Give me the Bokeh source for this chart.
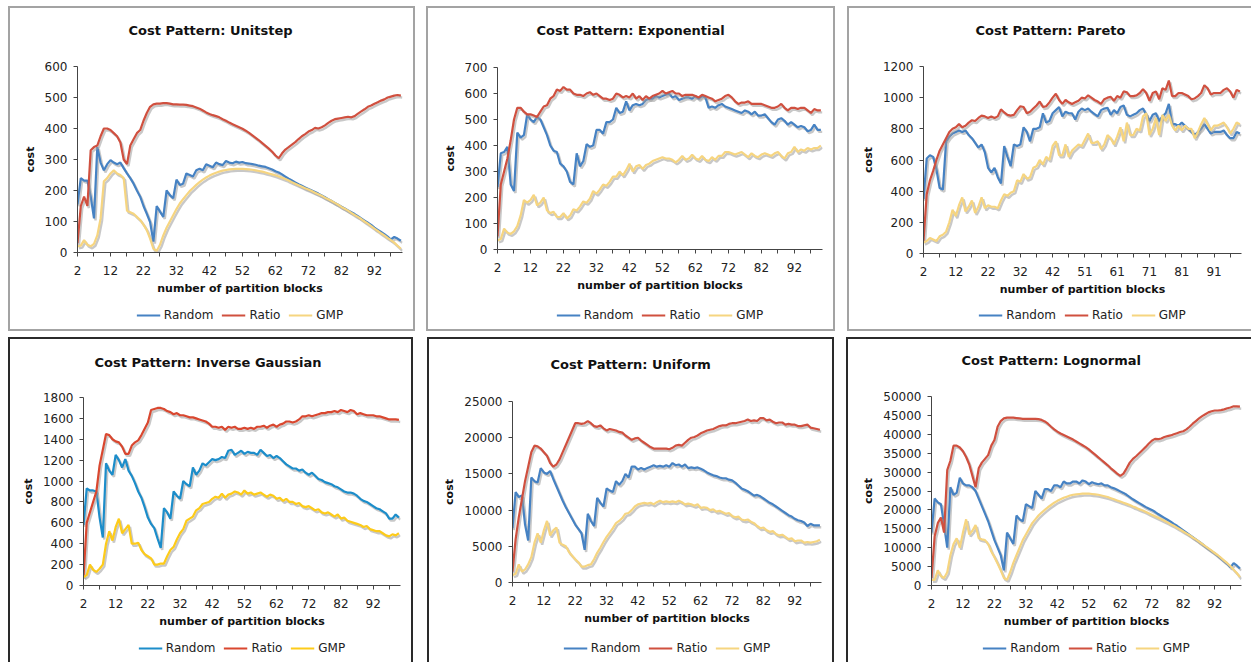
from bokeh.plotting import figure
from bokeh.models import Range1d, FixedTicker, Legend, Spacer, LinearAxis
from bokeh.layouts import row, column
from bokeh.embed import file_html
from bokeh.resources import INLINE

FONT = "DejaVu Sans"

# ---------------- data ----------------
X = list(range(2, 101))
XTICKS = [2, 12, 22, 32, 42, 52, 62, 72, 82, 92]
XMINOR = [7, 17, 27, 37, 47, 57, 67, 77, 87, 97]
XTICK_LABELS = ["2", "12", "22", "32", "42", "52", "62", "72", "82", "92"]
PARETO_XTICK_LABELS = ["2", "12", "22", "32", "42", "51", "61", "71", "81", "91"]
SERIES = ["Random", "Ratio", "GMP"]

UNITSTEP_RANDOM = [
    155, 240, 232, 232, 180, 110, 340, 290, 265, 285,
    298, 290, 285, 290, 272, 255, 240, 222, 200, 180,
    150, 125, 98, 35, 150, 132, 115, 200, 185, 175,
    235, 218, 222, 255, 250, 245, 265, 270, 265, 285,
    280, 275, 290, 285, 282, 295, 290, 288, 293, 290,
    292, 288, 287, 285, 283, 280, 278, 276, 272, 268,
    262, 258, 252, 245, 238, 232, 226, 220, 215, 210,
    205, 200, 195, 190, 184, 178, 172, 166, 160, 154,
    148, 142, 136, 130, 124, 117, 110, 103, 96, 89,
    80, 73, 66, 59, 51, 42, 50, 45, 38]
UNITSTEP_RATIO = [
    30, 150, 180, 150, 330, 340, 345, 375, 400, 400,
    395, 385, 375, 355, 300, 285, 345, 365, 385, 395,
    425, 450, 470, 478, 480, 480, 482, 482, 480, 478,
    478, 477, 477, 476, 474, 472, 468, 464, 458, 452,
    447, 443, 440, 436, 430, 425, 419, 414, 409, 404,
    399, 393, 386, 378, 370, 362, 353, 344, 335, 325,
    313, 304, 320, 332, 340, 348, 356, 366, 375, 382,
    390, 395, 402, 400, 404, 410, 418, 425, 430, 432,
    434, 436, 438, 436, 440, 448, 455, 462, 470, 474,
    480, 485, 490, 494, 500, 503, 506, 508, 506]
UNITSTEP_GMP = [
    20, 22, 40, 25, 20, 28, 55, 110, 230, 240,
    255, 265, 255, 250, 240, 135, 130, 125, 115, 105,
    90, 72, 45, 12, 5, 25, 55, 80, 100, 120,
    140, 158, 172, 185, 198, 208, 218, 227, 235, 242,
    248, 253, 257, 261, 264, 266, 268, 269, 270, 270,
    270, 269, 268, 267, 265, 263, 261, 258, 255, 252,
    249, 245, 241, 237, 232, 227, 222, 217, 212, 207,
    203, 198, 193, 188, 183, 177, 172, 166, 160, 154,
    147, 141, 135, 128, 121, 115, 108, 100, 93, 85,
    77, 70, 62, 55, 47, 40, 32, 22, 12]

EXPO_RANDOM = [
    240, 370, 375, 395, 250, 225, 450, 430, 440, 520,
    500, 490, 510, 500, 470, 440, 400, 380, 375, 330,
    320, 300, 260, 250, 370, 320, 340, 405, 395, 400,
    460, 460, 445, 490, 490, 500, 545, 525, 530, 570,
    535, 555, 560, 555, 560, 575, 580, 580, 590, 585,
    590, 595, 600, 585, 590, 575, 580, 585, 585, 580,
    590, 580, 590, 585, 545, 550, 545, 555, 560, 550,
    545, 540, 535, 530, 525, 535, 530, 520, 530, 515,
    515, 520, 505, 490, 480, 500, 505, 495, 480, 490,
    480, 470, 475, 470, 455, 460, 480, 460, 460]
EXPO_RATIO = [
    50, 250, 300, 350, 420, 500, 545, 545, 530, 520,
    520, 515, 510, 530, 550, 555, 580, 590, 615, 610,
    625, 615, 615, 600, 595, 595, 590, 600, 605, 595,
    600, 590, 580, 580, 575, 580, 600, 595, 585, 590,
    585, 600, 580, 590, 575, 590, 580, 590, 595, 600,
    610, 600, 605, 610, 600, 600, 590, 595, 595, 595,
    590, 585, 595, 590, 585, 580, 570, 575, 580, 590,
    595, 585, 570, 560, 565, 565, 570, 560, 560, 560,
    560, 555, 550, 545, 545, 550, 560, 545, 535, 545,
    545, 540, 545, 545, 535, 525, 540, 535, 535]
EXPO_GMP = [
    35, 40, 80, 65, 60, 70, 90, 130, 190, 180,
    190, 210, 170, 180, 200, 150, 140, 145, 125, 125,
    140, 120, 130, 155, 150, 165, 185, 180, 195, 225,
    215, 230, 250, 245, 260, 280, 280, 300, 285, 305,
    330, 300, 320, 325, 310, 325, 330, 340, 345, 350,
    355, 350, 350, 345, 335, 345, 360, 345, 350, 365,
    350, 345, 360, 345, 340, 355, 345, 360, 360, 375,
    375, 370, 365, 370, 375, 365, 355, 370, 360, 355,
    365, 370, 365, 360, 370, 375, 360, 350, 370, 375,
    395, 375, 385, 380, 390, 385, 390, 390, 400]

PARETO_RANDOM = [
    350, 610, 630, 620, 540, 420, 410, 720, 750, 770,
    780, 790, 780, 790, 760, 740, 710, 680, 700, 650,
    550, 520, 550, 490, 450, 690, 620, 560, 700, 690,
    700, 810, 780, 720, 800, 800, 810, 900, 840, 850,
    900, 920, 940, 880, 910, 900, 900, 860, 910, 930,
    920, 930, 910, 895, 880, 920, 930, 935, 890, 920,
    900, 940, 950, 890, 880, 890, 900, 920, 930, 890,
    850, 890, 900, 850, 880, 900, 960, 830, 830, 820,
    840, 820, 800, 780, 760, 780, 800, 830, 800, 770,
    780, 780, 780, 790, 760, 740, 740, 780, 770]
PARETO_RATIO = [
    80, 380, 470, 530, 600, 660, 700, 740, 780, 800,
    810, 830, 810, 820, 840, 855, 850, 870, 885, 880,
    870, 880, 870, 880, 925, 905, 890, 885, 890, 920,
    945, 940, 900, 910, 930, 950, 975, 940, 945, 970,
    1000, 1025, 985, 960, 985, 970, 960, 970, 980, 1000,
    995, 1015, 1000, 985, 975, 960, 990, 1000, 1005, 980,
    1010, 1000, 1040, 1035, 1010, 1010, 1015, 1030, 1055, 1030,
    980, 1030, 1040, 990, 1060, 1050, 1110, 1010, 1010, 1030,
    1030, 1020, 1010, 990, 995, 1010, 1030, 1080, 1060, 1020,
    1030, 1030, 1030, 1050, 1060, 1040, 1000, 1050, 1040]
PARETO_GMP = [
    70, 80, 100, 90, 80, 110, 120, 140, 200, 280,
    240, 310, 360, 270, 300, 340, 260, 300, 360, 290,
    310, 300, 300, 290, 340, 380, 370, 390, 400, 470,
    460, 510, 480, 490, 550, 560, 600, 570, 620, 600,
    690, 720, 630, 630, 700, 620, 660, 680, 700, 690,
    730, 770, 710, 710, 720, 670, 700, 760, 740, 700,
    750, 810, 720, 840, 760, 760, 800, 790, 880, 900,
    760, 800, 870, 760, 890, 850, 890, 820, 790, 820,
    790, 820, 800, 800, 740, 780, 830, 870, 830, 790,
    820, 820, 830, 840, 810, 770, 800, 840, 830]

INVGAUSS_RANDOM = [
    580, 930, 910, 910, 900, 650, 460, 1170, 1100, 1060,
    1250, 1200, 1130, 1210, 1100, 1050, 980, 900, 840, 750,
    650, 590, 550, 450, 360, 740, 700, 640, 900, 860,
    830, 1000, 970, 950, 1130, 1060, 1100, 1170, 1150, 1180,
    1210, 1200, 1210, 1230, 1220, 1290, 1300, 1250, 1270, 1290,
    1260, 1280, 1270, 1270, 1250, 1300, 1270, 1240, 1250, 1220,
    1240, 1220, 1190, 1160, 1140, 1120, 1120, 1100, 1110, 1080,
    1060, 1080, 1050, 1020, 1010, 990, 980, 970, 950, 940,
    920, 900, 890, 890, 880, 860, 830, 810, 800, 780,
    760, 740, 730, 710, 690, 640, 640, 680, 650]
INVGAUSS_RATIO = [
    80, 600, 700, 800, 900, 1150, 1300, 1450, 1440, 1400,
    1380, 1370, 1330, 1260, 1260, 1340, 1370, 1390, 1440, 1500,
    1560, 1680, 1690, 1700, 1700, 1690, 1670, 1660, 1640, 1650,
    1630, 1630, 1620, 1610, 1610, 1600, 1590, 1580, 1570, 1550,
    1520, 1520, 1510, 1520, 1490, 1520, 1510, 1520, 1500, 1500,
    1510, 1500, 1510, 1500, 1520, 1520, 1530, 1510, 1530, 1540,
    1520, 1540, 1550, 1570, 1570, 1560, 1570, 1590, 1620, 1620,
    1630, 1620, 1630, 1640, 1650, 1650, 1660, 1660, 1670, 1660,
    1680, 1670, 1660, 1680, 1670, 1640, 1650, 1640, 1630, 1630,
    1630, 1620, 1620, 1610, 1600, 1590, 1590, 1590, 1585]
INVGAUSS_GMP = [
    80, 100, 200, 150, 130, 160, 200, 400, 520, 430,
    560, 640, 500, 540, 580, 400, 400, 410, 340, 300,
    280, 260, 200, 200, 210, 210, 280, 340, 370, 440,
    500, 540, 620, 640, 660, 720, 740, 780, 790, 800,
    830, 850, 840, 880, 840, 870, 880, 900, 890, 870,
    910, 880, 890, 870, 880, 890, 870, 850, 870, 860,
    830, 840, 810, 830, 800, 800, 780, 790, 760, 750,
    760, 740, 720, 730, 700, 690, 700, 680, 660, 680,
    640, 650, 620, 610, 600, 590, 580, 560, 570, 540,
    530, 520, 520, 500, 480, 470, 490, 480, 500]

UNIFORM_RANDOM = [
    7500, 12500, 11800, 12000, 8000, 5800, 14500, 14000, 13800, 15800,
    15200, 15000, 15400, 14300, 13300, 12300, 11300, 10400, 9600, 8800,
    8000, 7400, 6800, 4500, 9500, 8500, 7800, 11700, 11000, 10500,
    13000, 12700, 12500, 14000, 13500, 14000, 15000, 14500, 16000, 16000,
    15600, 15800, 15600, 15800, 16000, 16200, 16000, 16100, 16000, 16200,
    16000, 16500, 16200, 16300, 16000, 16300, 15800, 15900, 15800, 15900,
    15700, 15500, 15200, 15000, 14800, 14700, 14500, 14400, 14400, 14200,
    14100, 13800, 13400, 13000, 12800, 12600, 12300, 12000, 12100, 11900,
    11600, 11300, 11000, 10800, 10500, 10200, 9900, 9600, 9300, 9100,
    8800, 8600, 8500, 8300, 7800, 8100, 7900, 7900, 7900]
UNIFORM_RATIO = [
    1500, 6000, 9000, 11500, 14000, 16000, 18000, 18900, 18800, 18500,
    18000, 17500, 16500, 16000, 16300, 17000, 18000, 19000, 20000, 21000,
    22000, 22000, 21900, 22000, 22300, 22000, 21600, 21500, 21700, 21300,
    21000, 21200, 21100, 21000, 20800, 20700, 20300, 20000, 19700, 19900,
    20000, 19600, 19300, 19000, 18700, 18500, 18500, 18500, 18500, 18500,
    18400, 18600, 18900, 19000, 18900, 19300, 19700, 20000, 20100, 20300,
    20600, 20800, 21000, 21100, 21200, 21400, 21600, 21700, 21700, 21900,
    22000, 22000, 22100, 22200, 22300, 22500, 22300, 22400, 22300, 22700,
    22700, 22400, 22500, 22200, 22000, 22100, 22100, 21800, 21900, 21800,
    21800, 21600, 21600, 21700, 21800, 21400, 21300, 21200, 21100]
UNIFORM_GMP = [
    1000, 1200, 2500, 1500, 1800, 2500, 3500, 5500, 6800, 5500,
    7200, 8500, 6500, 7200, 7600, 5500, 5200, 5000, 4200, 3700,
    3200, 2800, 2200, 2200, 2400, 2500, 3200, 4100, 4800, 5600,
    6300, 6900, 7500, 8200, 8500, 8900, 9500, 9600, 10000, 10500,
    10800, 10900, 11000, 10900, 11000, 10800, 11100, 11300, 11100, 11200,
    11100, 11200, 11100, 11300, 11100, 10800, 10900, 10800, 10600, 10800,
    10300, 10400, 10300, 10000, 10100, 9800, 9900, 9700, 9500, 9600,
    9200, 9000, 9100, 8700, 8600, 8700, 8400, 8200, 7800, 7500,
    7600, 7200, 7000, 7100, 6700, 6500, 6600, 6300, 6000, 6100,
    5700, 5800, 5800, 5500, 5600, 5500, 5600, 5700, 5900]

LOGNORMAL_RANDOM = [
    14000, 23000, 22000, 21500, 16000, 10000, 26000, 24000, 24500, 28500,
    27000, 26500, 26500, 26000, 25000, 23000, 21000, 19000, 17000, 14500,
    12000, 10000, 8000, 4000, 14000, 12500, 11000, 18500, 17500, 17000,
    21500, 21000, 20500, 25000, 24000, 23000, 25500, 25500, 25000, 26500,
    26500, 26000, 27500, 27000, 27000, 27500, 27500, 27000, 27800, 27500,
    26800, 27300, 27000, 26800, 27000, 26500, 26500, 26000, 25700, 25300,
    24900, 24500, 24000, 23400, 22800, 22300, 21800, 21300, 20800, 20400,
    20000, 19500, 18900, 18400, 17900, 17400, 16900, 16300, 15800, 15200,
    14600, 14000, 13400, 12800, 12200, 11600, 11000, 10300, 9700, 9100,
    8500, 7800, 7100, 6400, 5700, 4800, 5900, 5300, 4500]
LOGNORMAL_RATIO = [
    2000, 13000, 16500, 18000, 14000, 30500, 33000, 37000, 37000, 36500,
    35500, 34000, 32000, 29000, 26000, 31000, 32500, 33500, 34500, 37000,
    38500, 42000, 43500, 44200, 44400, 44400, 44400, 44300, 44200, 44100,
    44100, 44100, 44100, 44100, 44000, 43800, 43400, 42800, 42000, 41300,
    40700, 40200, 39800, 39400, 39000, 38600, 38100, 37600, 37100, 36600,
    36000, 35300, 34600, 33900, 33200, 32500, 31800, 31000, 30300, 29600,
    29000, 29600, 31000, 32500, 33500, 34200, 35000, 35800, 36600, 37500,
    38300, 38800, 38700, 38900, 39300, 39500, 39700, 40000, 40300, 40600,
    40800, 41300, 42000, 42800, 43500, 44200, 44800, 45300, 45800, 46100,
    46300, 46300, 46400, 46600, 46900, 47100, 47400, 47400, 47300]
LOGNORMAL_GMP = [
    1500, 1500, 4000, 2500, 2000, 3500, 8000, 11000, 12500, 10000,
    14000, 17500, 13500, 14500, 16000, 12500, 12200, 12000, 11000, 9000,
    7500, 5800, 4000, 2000, 1500, 3500, 6000, 8000, 10000, 12000,
    13500, 15000, 16500, 17500, 18500, 19300, 20000, 20700, 21300, 21900,
    22400, 22800, 23200, 23500, 23800, 24000, 24100, 24200, 24300, 24300,
    24300, 24200, 24100, 24000, 23800, 23600, 23400, 23100, 22800, 22500,
    22200, 21900, 21600, 21300, 20900, 20600, 20200, 19900, 19500, 19100,
    18700, 18300, 17900, 17500, 17100, 16700, 16200, 15800, 15300, 14800,
    14300, 13800, 13300, 12700, 12200, 11600, 11000, 10400, 9800, 9200,
    8600, 8000, 7300, 6600, 5900, 5100, 4200, 3300, 2200]

PAL_A = ["#4682c3", "#d0503f", "#f6d580"]
PAL_B = ["#1c8dca", "#d9472f", "#fdcb1a"]

PANEL_H = 325
AXIS_BOTTOM = 50


def frame_css(color, sides):
    shadows = {"l": "inset 2px 0 0 0 ", "r": "inset -2px 0 0 0 ",
               "t": "inset 0 2px 0 0 ", "b": "inset 0 -2px 0 0 "}
    return {"box-shadow": ", ".join(shadows[s] + color for s in sides)}


def panel(title, series, ymax, ystep, xlabels, pal, w, mbl, mbr, mbt, mbb,
          tleft, tgap, lcenter, border, sides):
    h1 = PANEL_H - mbb + AXIS_BOTTOM
    h2 = mbb - AXIS_BOTTOM
    fw = w - mbl - mbr
    fh = h1 - mbt - AXIS_BOTTOM
    p = figure(width=w, height=h1, output_backend="svg", toolbar_location=None,
               x_range=Range1d(2, 100.5), y_range=Range1d(0, ymax),
               min_border_left=mbl, min_border_right=mbr,
               min_border_top=mbt, min_border_bottom=AXIS_BOTTOM, title=title)
    xa = p.below[0]
    ya = p.left[0]
    p.background_fill_color = "white"
    p.border_fill_color = None
    p.outline_line_color = None
    p.xgrid.visible = False
    p.ygrid.visible = False

    p.title.align = "left"
    p.title.offset = tleft
    p.title.text_font = FONT
    p.title.text_font_size = "13px"
    p.title.text_font_style = "bold"
    p.title.text_color = "#111111"

    dx = 1.5 * 98.5 / fw
    dy = 2.0 * ymax / fh
    p.extra_x_ranges = {"sx": Range1d(2 - dx, 100.5 - dx)}
    p.extra_y_ranges = {"sy": Range1d(dy, ymax + dy)}

    for ys, col in zip(series, pal):
        xs = X[:len(ys)]
        p.line(xs, ys, line_color="#9a9a9a", line_alpha=0.55, line_width=2.4,
               x_range_name="sx", y_range_name="sy")
        p.line(xs, ys, line_color=col, line_width=2.2)

    for ax in (xa, ya):
        ax.axis_line_color = "#444444"
        ax.major_tick_line_color = "#444444"
        ax.minor_tick_line_color = "#444444"
        ax.major_tick_in = 0
        ax.major_tick_out = 4
        ax.minor_tick_in = 0
        ax.minor_tick_out = 4
        ax.major_label_text_font = FONT
        ax.major_label_text_font_size = "12px"
        ax.major_label_text_color = "#222222"
        ax.axis_label_text_font = FONT
        ax.axis_label_text_font_size = "11px"
        ax.axis_label_text_font_style = "bold"
        ax.axis_label_text_color = "#111111"

    xa.major_label_standoff = 9
    xa.axis_label_standoff = 4
    ya.major_label_standoff = 6
    ya.axis_label_standoff = 5

    xa.ticker = FixedTicker(ticks=XTICKS, minor_ticks=XMINOR)
    xa.major_label_overrides = {t: s for t, s in zip(XTICKS, xlabels)}
    xa.axis_label = "number of partition blocks"
    ya.ticker = FixedTicker(ticks=list(range(0, ymax + 1, ystep)))
    ya.minor_tick_line_color = None
    ya.axis_label = "cost"

    # blank axis directly above the frame: spaces the title away from the plot
    gap = LinearAxis(ticker=FixedTicker(ticks=[XTICKS[0]]), axis_line_color=None,
                     major_tick_line_color=None, minor_tick_line_color=None,
                     major_tick_in=0, major_tick_out=tgap, minor_tick_in=0,
                     minor_tick_out=0, major_label_standoff=0,
                     major_label_overrides={XTICKS[0]: ""},
                     major_label_text_font_size="1px",
                     major_label_text_alpha=0)
    p.add_layout(gap, "above")

    # legend strip under the chart
    lf = figure(width=w, height=h2, output_backend="svg", toolbar_location=None,
                x_range=Range1d(0, 1), y_range=Range1d(-1, 0),
                x_axis_location=None, y_axis_location=None,
                min_border_left=mbl, min_border_right=mbr,
                min_border_top=max(2 * lcenter - h2, 0),
                min_border_bottom=max(h2 - 2 * lcenter, 0))
    lf.title.visible = False
    lf.xgrid.visible = False
    lf.ygrid.visible = False
    lf.outline_line_color = None
    lf.background_fill_color = None
    lf.border_fill_color = None
    # legend keys: the same series, drawn outside this strip's visible range
    rs = [lf.line(X[:len(ys)], ys, line_color=c, line_width=2.2)
          for ys, c in zip(series, pal)]
    legend = Legend(items=[(n, [r]) for n, r in zip(SERIES, rs)],
                    orientation="horizontal", location="center",
                    label_text_font=FONT, label_text_font_size="12px",
                    label_text_color="#222222",
                    glyph_width=24, glyph_height=14, label_height=14,
                    label_standoff=4, spacing=8, padding=0, margin=0,
                    border_line_color=None, background_fill_alpha=0)
    lf.add_layout(legend, "center")

    box = column(p, lf, spacing=0)
    box.styles = frame_css(border, sides)
    return box


TOP = "#a3a3a3"
BOT = "#2a2a2a"

p1 = panel("Cost Pattern: Unitstep", [UNITSTEP_RANDOM, UNITSTEP_RATIO, UNITSTEP_GMP],
           600, 100, XTICK_LABELS, PAL_A, 407, 69, 13, 60, 79, 51, 24, 13, TOP, "ltrb")
p2 = panel("Cost Pattern: Exponential", [EXPO_RANDOM, EXPO_RATIO, EXPO_GMP],
           700, 100, XTICK_LABELS, PAL_A, 409, 71, 13, 61, 82, 39, 25, 16, TOP, "ltrb")
p3 = panel("Cost Pattern: Pareto", [PARETO_RANDOM, PARETO_RATIO, PARETO_GMP],
           1200, 200, PARETO_XTICK_LABELS, PAL_A, 404, 76, 10, 60, 78, 52, 24, 12, TOP, "ltb")
p4 = panel("Cost Pattern: Inverse Gaussian", [INVGAUSS_RANDOM, INVGAUSS_RATIO, INVGAUSS_GMP],
           1800, 200, XTICK_LABELS, PAL_B, 405, 75, 13, 60, 77, 11, 23, 13, BOT, "ltr")
p5 = panel("Cost Pattern: Uniform", [UNIFORM_RANDOM, UNIFORM_RATIO, UNIFORM_GMP],
           25000, 5000, XTICK_LABELS, PAL_A, 407, 85, 13, 64, 80, 38, 25, 16, BOT, "ltr")
p6 = panel("Cost Pattern: Lognormal", [LOGNORMAL_RANDOM, LOGNORMAL_RATIO, LOGNORMAL_GMP],
           50000, 5000, XTICK_LABELS, PAL_A, 405, 85, 10, 59, 77, 30, 24, 13, BOT, "lt")

top_row = row(Spacer(width=8, height=PANEL_H), p1, Spacer(width=11, height=PANEL_H), p2,
              Spacer(width=12, height=PANEL_H), p3)
bottom_row = row(Spacer(width=8, height=PANEL_H), p4, Spacer(width=14, height=PANEL_H), p5,
                 Spacer(width=12, height=PANEL_H), p6)
layout = column(Spacer(width=1251, height=6), top_row,
                Spacer(width=1251, height=6), bottom_row)

open("out.html", "w").write(file_html(layout, INLINE, "Cost Patterns"))
